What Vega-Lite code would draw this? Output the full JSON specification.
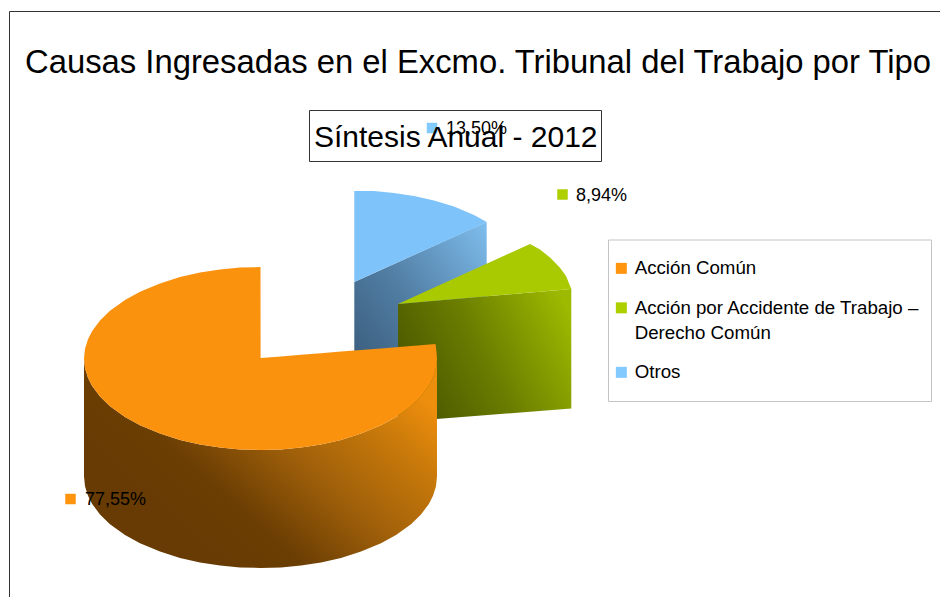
{
"$schema":"https://vega.github.io/schema/vega-lite/v6.json",
"width":940,"height":597,"padding":0,"autosize":{"type":"none"},
"background":"white",
"title":{"text":"Causas Ingresadas en el Excmo. Tribunal del Trabajo por Tipo","anchor":"start","frame":"group","font":"Liberation Sans","fontSize":32.8,"fontWeight":"normal","color":"#000000","dx":25,"dy":80,"offset":0},
"view":{"stroke":null},
"config":{"font":"Liberation Sans","style":{"guide-label":{"lineHeight":25}}},
"datasets":{
"slices":[
{"tipo":"Acción Común","share":77.55,"rotulo":"77,55%","px":70.5,"py":499,"tx":85},
{"tipo":"Acción por Accidente de Trabajo – Derecho Común","share":8.94,"rotulo":"8,94%","px":562.5,"py":194.5,"tx":576},
{"tipo":"Otros","share":13.5,"rotulo":"13,50%","px":432,"py":128,"tx":446}
],
"marco":[
{"x":9.5,"x2":940,"y":11.5,"y2":11.5},
{"x":9.5,"x2":9.5,"y":11.5,"y2":597}
],
"cajas":[
{"caja":"subtitulo","x":309.5,"x2":601.5,"y":110.5,"y2":161.5,"borde":"#333333"},
{"caja":"leyenda","x":608.5,"x2":931.5,"y":240,"y2":401.5,"borde":"#c4c4c4"}
],
"subtitulo":[{"texto":"Síntesis Anual - 2012","x":314,"y":138}],
"superficies":[
{"p":"bs","x":354.3,"y":282,"y2":400},
{"p":"bs","x":486.7,"y":222,"y2":340},
{"p":"bt","x":354.3,"y":191,"y2":282},
{"p":"bt","x":374,"y":191.1,"y2":273},
{"p":"bt","x":394,"y":192.9,"y2":264},
{"p":"bt","x":414,"y":196,"y2":255},
{"p":"bt","x":434,"y":200.4,"y2":246},
{"p":"bt","x":454,"y":206.6,"y2":237},
{"p":"bt","x":474,"y":214.9,"y2":228},
{"p":"bt","x":486.7,"y":222,"y2":222},
{"p":"gs","x":398,"y":304,"y2":422},
{"p":"gs","x":571.3,"y":289,"y2":408.5},
{"p":"gt","x":398,"y":304,"y2":304},
{"p":"gt","x":530,"y":244,"y2":292.6},
{"p":"gt","x":540,"y":249.6,"y2":291.7},
{"p":"gt","x":550,"y":257.5,"y2":290.8},
{"p":"gt","x":560,"y":267.7,"y2":290},
{"p":"gt","x":566,"y":276,"y2":289.4},
{"p":"gt","x":571.3,"y":289,"y2":289},
{"p":"os","x":84,"y":358.5,"y2":476.5},
{"p":"os","x":85,"y":368.2,"y2":486.2},
{"p":"os","x":88,"y":377.8,"y2":495.8},
{"p":"os","x":92,"y":385.7,"y2":503.7},
{"p":"os","x":100,"y":396.5,"y2":514.5},
{"p":"os","x":110,"y":406.2,"y2":524.2},
{"p":"os","x":125,"y":417.1,"y2":535.1},
{"p":"os","x":140,"y":425.3,"y2":543.3},
{"p":"os","x":160,"y":433.6,"y2":551.6},
{"p":"os","x":180,"y":439.9,"y2":557.9},
{"p":"os","x":200,"y":444.4,"y2":562.4},
{"p":"os","x":220,"y":447.5,"y2":565.5},
{"p":"os","x":240,"y":449.4,"y2":567.4},
{"p":"os","x":260.5,"y":450,"y2":568},
{"p":"os","x":281,"y":449.4,"y2":567.4},
{"p":"os","x":301,"y":447.5,"y2":565.5},
{"p":"os","x":321,"y":444.4,"y2":562.4},
{"p":"os","x":341,"y":439.9,"y2":557.9},
{"p":"os","x":361,"y":433.6,"y2":551.6},
{"p":"os","x":381,"y":425.3,"y2":543.3},
{"p":"os","x":396,"y":417.1,"y2":535.1},
{"p":"os","x":411,"y":406.2,"y2":524.2},
{"p":"os","x":421,"y":396.5,"y2":514.5},
{"p":"os","x":429,"y":385.7,"y2":503.7},
{"p":"os","x":433,"y":377.8,"y2":495.8},
{"p":"os","x":436,"y":368.2,"y2":486.2},
{"p":"os","x":437,"y":358.5,"y2":476.5},
{"p":"ot","x":84,"y":358.5,"y2":358.5},
{"p":"ot","x":85,"y":348.8,"y2":368.2},
{"p":"ot","x":88,"y":339.2,"y2":377.8},
{"p":"ot","x":92,"y":331.3,"y2":385.7},
{"p":"ot","x":100,"y":320.5,"y2":396.5},
{"p":"ot","x":110,"y":310.8,"y2":406.2},
{"p":"ot","x":125,"y":299.9,"y2":417.1},
{"p":"ot","x":140,"y":291.7,"y2":425.3},
{"p":"ot","x":160,"y":283.4,"y2":433.6},
{"p":"ot","x":180,"y":277.1,"y2":439.9},
{"p":"ot","x":200,"y":272.6,"y2":444.4},
{"p":"ot","x":220,"y":269.5,"y2":447.5},
{"p":"ot","x":240,"y":267.6,"y2":449.4},
{"p":"ot","x":260.5,"y":267,"y2":450},
{"p":"ot","x":260.6,"y":358,"y2":450},
{"p":"ot","x":281,"y":356.4,"y2":449.4},
{"p":"ot","x":301,"y":354.8,"y2":447.5},
{"p":"ot","x":321,"y":353.2,"y2":444.4},
{"p":"ot","x":341,"y":351.6,"y2":439.9},
{"p":"ot","x":361,"y":350,"y2":433.6},
{"p":"ot","x":381,"y":348.4,"y2":425.3},
{"p":"ot","x":396,"y":347.2,"y2":417.1},
{"p":"ot","x":411,"y":346,"y2":406.2},
{"p":"ot","x":421,"y":345.2,"y2":396.5},
{"p":"ot","x":429,"y":344.5,"y2":385.7},
{"p":"ot","x":433,"y":344.2,"y2":377.8},
{"p":"ot","x":435.5,"y":344,"y2":370},
{"p":"ot","x":436.3,"y":350,"y2":366},
{"p":"ot","x":437,"y":358.5,"y2":358.5}
]
},
"encoding":{
"x":{"field":"x","type":"quantitative","scale":{"domain":[0,940],"nice":false,"zero":false},"axis":null},
"y":{"field":"y","type":"quantitative","scale":{"domain":[597,0],"nice":false,"zero":false},"axis":null}
},
"layer":[
{"data":{"name":"marco"},"mark":{"type":"rule","color":"#333333","strokeWidth":1},"encoding":{"x2":{"field":"x2"},"y2":{"field":"y2"}}},
{"data":{"name":"superficies"},"transform":[{"filter":"datum.p=='bs'"}],"mark":{"type":"area","orient":"vertical","color":{"gradient":"linear","x1":0,"y1":1,"x2":1,"y2":0,"stops":[{"offset":0.1,"color":"#3a5d7d"},{"offset":0.5,"color":"#527fa5"},{"offset":1,"color":"#7fbeee"}]}},"encoding":{"y":{"field":"y","type":"quantitative","stack":null},"y2":{"field":"y2"}}},
{"data":{"name":"superficies"},"transform":[{"filter":"datum.p=='bt'"}],"mark":{"type":"area","orient":"vertical","color":"#7ec3fa"},"encoding":{"y":{"field":"y","type":"quantitative","stack":null},"y2":{"field":"y2"}}},
{"data":{"name":"superficies"},"transform":[{"filter":"datum.p=='gs'"}],"mark":{"type":"area","orient":"vertical","color":{"gradient":"linear","x1":0,"y1":0.6,"x2":1,"y2":0.2,"stops":[{"offset":0,"color":"#4b5700"},{"offset":0.45,"color":"#6a7c00"},{"offset":1,"color":"#9db900"}]}},"encoding":{"y":{"field":"y","type":"quantitative","stack":null},"y2":{"field":"y2"}}},
{"data":{"name":"superficies"},"transform":[{"filter":"datum.p=='gt'"}],"mark":{"type":"area","orient":"vertical","color":"#a9c900"},"encoding":{"y":{"field":"y","type":"quantitative","stack":null},"y2":{"field":"y2"}}},
{"data":{"name":"superficies"},"transform":[{"filter":"datum.p=='os'"}],"mark":{"type":"area","orient":"vertical","color":{"gradient":"linear","x1":0.25,"y1":0.75,"x2":1,"y2":0.25,"stops":[{"offset":0,"color":"#673b03"},{"offset":0.2,"color":"#6b3e03"},{"offset":0.5,"color":"#a0600a"},{"offset":0.8,"color":"#c97a0a"},{"offset":1,"color":"#ee8e0d"}]}},"encoding":{"y":{"field":"y","type":"quantitative","stack":null},"y2":{"field":"y2"}}},
{"data":{"name":"superficies"},"transform":[{"filter":"datum.p=='ot'"}],"mark":{"type":"area","orient":"vertical","color":"#fa920e"},"encoding":{"y":{"field":"y","type":"quantitative","stack":null},"y2":{"field":"y2"}}},
{"data":{"name":"cajas"},"mark":{"type":"rect","fill":"white","strokeWidth":1},"encoding":{"x2":{"field":"x2"},"y2":{"field":"y2"},"stroke":{"field":"borde","type":"nominal","scale":null}}},
{"data":{"name":"slices"},"mark":{"type":"point","shape":"square","filled":true,"size":110,"opacity":1},"encoding":{"x":{"field":"px","type":"quantitative"},"y":{"field":"py","type":"quantitative"},
"color":{"field":"tipo","type":"nominal","sort":null,"scale":{"domain":["Acción Común","Acción por Accidente de Trabajo – Derecho Común","Otros"],"range":["#ff950e","#aecf00","#83caff"]},
"legend":{"orient":"none","legendX":612,"legendY":259,"title":null,"padding":0,"symbolType":"square","symbolSize":121,"symbolOpacity":1,"symbolStrokeWidth":0,"labelFont":"Liberation Sans","labelFontSize":18.7,"labelColor":"#000000","labelOffset":4,"labelLimit":320,"rowPadding":19.5,
"labelExpr":"datum.label=='Acción por Accidente de Trabajo – Derecho Común'?['Acción por Accidente de Trabajo –','Derecho Común']:datum.label"}}}},
{"data":{"name":"slices"},"mark":{"type":"text","align":"left","baseline":"middle","dy":1,"font":"Liberation Sans","fontSize":18,"color":"#000000"},"encoding":{"x":{"field":"tx","type":"quantitative"},"y":{"field":"py","type":"quantitative"},"text":{"field":"rotulo","type":"nominal"}}},
{"data":{"name":"subtitulo"},"mark":{"type":"text","align":"left","baseline":"middle","font":"Liberation Sans","fontSize":30,"color":"#000000"},"encoding":{"text":{"field":"texto","type":"nominal"}}}
]
}
